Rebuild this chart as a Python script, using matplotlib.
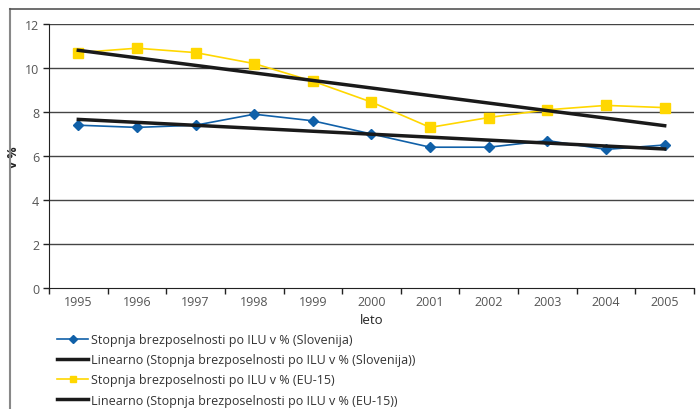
"""
Stopnja brezposelnosti po ILU - Slovenija in EU-15, z linearnima trendoma
"""
import matplotlib
matplotlib.use('Agg')
import matplotlib.pyplot as plt
from matplotlib.lines import Line2D
import numpy as np

years = ['1995', '1996', '1997', '1998', '1999', '2000',
         '2001', '2002', '2003', '2004', '2005']
slovenija = [7.4, 7.3, 7.4, 7.9, 7.6, 7.0, 6.4, 6.4, 6.7, 6.3, 6.5]
eu15 = [10.7, 10.9, 10.7, 10.2, 9.4, 8.45, 7.3, 7.75, 8.1, 8.3, 8.2]

label_si = 'Stopnja brezposelnosti po ILU v % (Slovenija)'
label_si_lin = 'Linearno (Stopnja brezposelnosti po ILU v % (Slovenija))'
label_eu = 'Stopnja brezposelnosti po ILU v % (EU-15)'
label_eu_lin = 'Linearno (Stopnja brezposelnosti po ILU v % (EU-15))'

plt.rcParams['font.family'] = ['Open Sans', 'DejaVu Sans']

x = np.arange(len(years))

# linear trends
si_fit = np.polyval(np.polyfit(x, slovenija, 1), x)
eu_fit = np.polyval(np.polyfit(x, eu15, 1), x)

fig = plt.figure(figsize=(7, 4.1), dpi=100)
ax = fig.add_axes([49 / 700, 1 - 289 / 410, 645 / 700, 264 / 410])

# grid
for v in range(2, 13, 2):
    ax.axhline(v, color='#444444', lw=1.0, zorder=0)

ax.plot(x, slovenija, color='#1060A8', lw=1.2, marker='D', markersize=5,
        label=label_si, zorder=3)
ax.plot(x, si_fit, color='#1a1a1a', lw=2.5, label=label_si_lin, zorder=4)
ax.plot(x, eu15, color='#FFD700', lw=1.2, marker='s', markersize=6.5,
        label=label_eu, zorder=3)
ax.plot(x, eu_fit, color='#1a1a1a', lw=2.5, label=label_eu_lin, zorder=4)

ax.set_xlim(-0.5, len(years) - 0.5)
ax.set_ylim(0, 12)
ax.set_yticks(range(0, 13, 2))

# categories between ticks
ax.set_xticks(np.arange(-0.5, len(years), 1))
ax.set_xticklabels([])
ax.set_xticks(x, minor=True)
ax.set_xticklabels(years, minor=True)
ax.tick_params(axis='x', which='major', direction='out', length=4, width=1,
               color='#222222')
ax.tick_params(axis='x', which='minor', length=0, pad=5, labelsize=9,
               labelcolor='#555555')
ax.tick_params(axis='y', direction='out', length=4, width=1, color='#222222',
               labelsize=9, labelcolor='#555555', pad=3)

for s in ['top', 'right']:
    ax.spines[s].set_visible(False)
ax.spines['left'].set_color('#222222')
ax.spines['bottom'].set_color('#222222')

ax.set_xlabel('leto', fontsize=9.5, color='#222222', labelpad=4)
ax.set_ylabel('v %', fontsize=9, fontweight='bold', color='#222222')
ax.yaxis.set_label_coords(-0.045, 0.5)

# legend below the plot
handles, labels = ax.get_legend_handles_labels()
fig.legend(handles, labels, loc='upper left',
           bbox_to_anchor=(57 / 700, 1 - 334 / 410), frameon=False,
           fontsize=9, borderpad=0, borderaxespad=0, handlelength=2.5,
           handletextpad=0.2, labelspacing=0.58, markerscale=0.75,
           labelcolor='#333333')

# outer frame
fig.add_artist(Line2D([10 / 700, 10 / 700], [0, 1 - 10 / 410],
                      color='#888888', lw=1.5, transform=fig.transFigure))
fig.add_artist(Line2D([10 / 700, 1], [1 - 10 / 410, 1 - 10 / 410],
                      color='#555555', lw=1.2, transform=fig.transFigure))

fig.savefig('out.png', dpi=100)
plt.close(fig)
